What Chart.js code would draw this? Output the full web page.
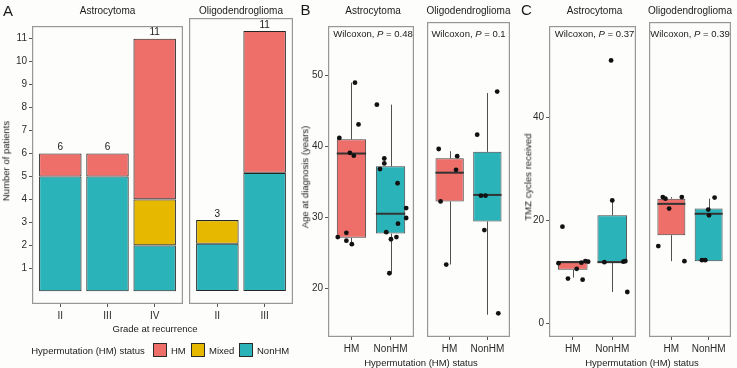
<!DOCTYPE html>
<html>
<head>
<meta charset="utf-8">
<script src="https://cdn.jsdelivr.net/npm/chart.js@4.4.0/dist/chart.umd.min.js"></script>
<style>
  body { margin: 0; background: #fdfdfb; }
  #fig { position: relative; width: 737px; height: 368px; overflow: hidden;
         font-family: 'Liberation Sans', Arial, sans-serif; color: #1a1a1a; }
  #fig canvas { position: absolute; }
  .t { position: absolute; white-space: nowrap; line-height: 1; font-size: 9.5px;
       transform: translate(-50%, -50%); }
  .rot { transform: translate(-50%, -50%) rotate(-90deg); }
  .strip { font-size: 10px; }
  .letter { font-size: 15px; }
  .key { position: absolute; width: 14px; height: 14px; border: 1px solid #2a2a2a; box-sizing: border-box; }
</style>
</head>
<body>
<div id="fig"></div>
<script>
// ---- data ----
const statusNames = ['HM', 'Mixed', 'NonHM'];
const facetNames = ['Astrocytoma', 'Oligodendroglioma'];

// A: number of patients by grade at recurrence
const gradesAstro = ['II', 'III', 'IV'];
const gradesOligo = ['II', 'III'];
const astroHM = [1, 1, 7];
const astroMixed = [0, 0, 2];
const astroNonHM = [5, 5, 2];
const oligoHM = [0, 6];
const oligoMixed = [1, 0];
const oligoNonHM = [2, 5];
const countTicks = [1, 2, 3, 4, 5, 6, 7, 8, 9, 10, 11];

// B / C boxplots: [lower whisker, q1, median, q3, upper whisker] for HM, NonHM
const boxGroups = ['HM', 'NonHM'];
const ageAstroBox = [[26.2, 27.1, 39.0, 41.0, 49.0], [22.1, 27.7, 30.5, 37.2, 45.9]];
const ageOligoBox = [[23.2, 32.0, 36.0, 38.0, 39.0], [16.2, 29.2, 32.9, 38.9, 47.1]];
const tmzAstroBox = [[8.9, 10.4, 11.9, 12.1, 12.1], [6.1, 11.9, 11.9, 21.0, 23.9]];
const tmzOligoBox = [[11.9, 16.9, 22.9, 23.9, 24.2], [11.9, 11.9, 21.0, 22.0, 23.9]];

// jittered points (value + horizontal jitter around the group)
const ageAstroHM = [41.2, 49.0, 43.1, 39.1, 38.7, 27.2, 27.8, 26.7, 26.2];
const ageAstroHMJit = [-0.31, 0.09, 0.18, -0.04, 0.06, -0.35, -0.13, -0.13, 0.01];
const ageAstroNon = [45.9, 38.3, 37.6, 36.8, 34.8, 27.9, 26.9, 27.2, 31.3, 29.9, 29.1, 22.1];
const ageAstroNonJit = [-0.35, -0.16, -0.16, -0.27, 0.18, -0.11, 0.01, 0.15, 0.40, 0.40, 0.19, -0.03];
const ageOligoHM = [39.3, 38.3, 36.4, 32.0, 23.2];
const ageOligoHMJit = [-0.29, 0.20, 0.17, -0.24, -0.09];
const ageOligoNon = [41.3, 47.3, 32.8, 32.8, 28.0, 16.4];
const ageOligoNonJit = [-0.27, 0.26, -0.17, -0.05, -0.08, 0.29];

const tmzAstroHM = [18.8, 11.7, 8.7, 10.6, 11.8, 12.1, 12.0, 8.5];
const tmzAstroHMJit = [-0.26, -0.36, -0.12, 0.10, 0.22, 0.32, 0.39, 0.25];
const tmzAstroNon = [51.1, 23.9, 11.9, 12.0, 12.1, 6.1];
const tmzAstroNonJit = [-0.03, 0.00, -0.20, 0.28, 0.33, 0.38];
const tmzOligoHM = [24.2, 23.9, 22.0, 24.2, 14.8, 11.9];
const tmzOligoHMJit = [-0.23, -0.16, -0.06, 0.28, -0.35, 0.35];
const tmzOligoNon = [24.1, 21.8, 20.7, 12.1, 12.1];
const tmzOligoNonJit = [0.16, -0.01, 0.01, -0.18, -0.09];

const ageTicks = [20, 30, 40, 50];
const tmzTicks = [0, 20, 40];
const pValuesAge = ['0.48', '0.1'];
const pValuesTmz = ['0.37', '0.39'];

// ---- styling ----
const colors = { HM: '#EE6E6A', Mixed: '#E6B800', NonHM: '#2BB3BA' };
const tickFont = { family: "'Liberation Sans', Arial, sans-serif", size: 10 };
const tickColor = '#2b2b2b';
const fig = document.getElementById('fig');

function makeCanvas(left, top, w, h) {
  const c = document.createElement('canvas');
  c.width = w; c.height = h;
  c.style.left = left + 'px'; c.style.top = top + 'px';
  c.style.width = w + 'px'; c.style.height = h + 'px';
  fig.appendChild(c);
  return c;
}

function addText(html, x, y, cls) {
  const d = document.createElement('div');
  d.className = 't ' + (cls || '');
  d.innerHTML = html;
  d.style.left = x + 'px'; d.style.top = y + 'px';
  fig.appendChild(d);
  return d;
}

const panelBorder = {
  id: 'panelBorder',
  afterDraw(chart) {
    const { ctx, chartArea: a } = chart;
    ctx.save();
    ctx.strokeStyle = '#979797';
    ctx.lineWidth = 1.2;
    ctx.strokeRect(a.left + 0.6, a.top + 0.6, a.right - a.left - 1.2, a.bottom - a.top - 1.2);
    ctx.restore();
  }
};

function xAxis(labels, xh, stacked) {
  return {
    type: 'linear', min: 0.4, max: labels.length + 0.6, offset: false, stacked: stacked,
    afterBuildTicks: s => { s.ticks = labels.map((l, i) => ({ value: i + 1 })); },
    afterFit: s => { s.height = xh; },
    ticks: { callback: v => labels[v - 1], font: tickFont, color: tickColor, padding: 3,
             autoSkip: false, maxRotation: 0 },
    grid: { display: true, drawOnChartArea: false, drawTicks: true, tickLength: 3,
            color: '#555', offset: false },
    border: { display: false }
  };
}

function yAxis(min, max, tickVals, yw, stacked) {
  return {
    type: 'linear', min: min, max: max, stacked: stacked, display: yw > 0,
    afterBuildTicks: s => { s.ticks = tickVals.map(v => ({ value: v })); },
    afterFit: s => { s.width = yw; },
    ticks: { font: tickFont, color: tickColor, padding: 2 },
    grid: { display: true, drawOnChartArea: false, drawTicks: true, tickLength: 3, color: '#555' },
    border: { display: false }
  };
}

function baseOptions(scales) {
  return {
    responsive: false, animation: false,
    layout: { padding: 0 },
    plugins: { legend: { display: false }, tooltip: { enabled: false } },
    scales: scales
  };
}

// ---- panel A ----
function countChart(panel, yw, grades, hm, mixed, non) {
  const xh = 24;
  const cv = makeCanvas(panel.x - yw, panel.y, panel.w + yw, panel.h + xh);
  const series = [['NonHM', non], ['Mixed', mixed], ['HM', hm]];
  const totals = {
    id: 'totals',
    afterDatasetsDraw(chart) {
      const { ctx, scales: { x, y } } = chart;
      ctx.save();
      ctx.font = "10px 'Liberation Sans', Arial, sans-serif";
      ctx.fillStyle = '#1a1a1a';
      ctx.textAlign = 'center';
      ctx.textBaseline = 'bottom';
      grades.forEach((g, i) => {
        const total = hm[i] + mixed[i] + non[i];
        ctx.fillText(String(total), x.getPixelForValue(i + 1), y.getPixelForValue(total) - 1);
      });
      ctx.restore();
    }
  };
  new Chart(cv, {
    type: 'bar',
    data: {
      datasets: series.map(([name, vals]) => ({
        label: name,
        data: vals.map((v, i) => ({ x: i + 1, y: v || null })),
        backgroundColor: colors[name],
        borderColor: '#262626', borderWidth: 1.1, borderSkipped: false,
        categoryPercentage: 1, barPercentage: 0.9
      }))
    },
    plugins: [panelBorder, totals],
    options: baseOptions({
      x: xAxis(grades, xh, true),
      y: yAxis(-0.55, 11.55, countTicks, yw, true)
    })
  });
}

// ---- panels B and C ----
function boxExtras(box) {
  return {
    id: 'boxExtras',
    beforeDatasetsDraw(chart) {
      const { ctx, scales: { x, y } } = chart;
      ctx.save();
      ctx.strokeStyle = '#505050';
      ctx.lineWidth = 1;
      box.forEach((b, i) => {
        const px = Math.round(x.getPixelForValue(i + 1)) + 0.5;
        ctx.beginPath();
        ctx.moveTo(px, y.getPixelForValue(b[0]));
        ctx.lineTo(px, y.getPixelForValue(b[1]));
        ctx.moveTo(px, y.getPixelForValue(b[3]));
        ctx.lineTo(px, y.getPixelForValue(b[4]));
        ctx.stroke();
      });
      ctx.restore();
    },
    afterDatasetDraw(chart, args) {
      if (args.meta.type !== 'bar') return;
      const { ctx, scales: { y } } = chart;
      ctx.save();
      ctx.strokeStyle = '#333';
      ctx.lineWidth = 2;
      args.meta.data.forEach((bar, i) => {
        const half = bar.width / 2;
        const py = y.getPixelForValue(box[i][2]);
        ctx.beginPath();
        ctx.moveTo(bar.x - half, py);
        ctx.lineTo(bar.x + half, py);
        ctx.stroke();
      });
      ctx.restore();
    }
  };
}

function boxChart(panel, yw, box, hmVals, hmJit, nonVals, nonJit, yMin, yMax, yTicks) {
  const xh = 24;
  const cv = makeCanvas(panel.x - yw, panel.y, panel.w + yw, panel.h + xh);
  const pts = hmVals.map((v, i) => ({ x: 1 + hmJit[i], y: v }))
    .concat(nonVals.map((v, i) => ({ x: 2 + nonJit[i], y: v })));
  new Chart(cv, {
    type: 'bar',
    data: {
      datasets: [
        { type: 'scatter', data: pts, order: 0, showLine: false,
          pointRadius: 2.4, pointBackgroundColor: '#111', pointBorderWidth: 0 },
        { type: 'bar', order: 1,
          data: box.map((b, i) => ({ x: i + 1, y: [b[1], b[3]] })),
          backgroundColor: boxGroups.map(g => colors[g]),
          borderColor: '#444', borderWidth: 1, borderSkipped: false,
          categoryPercentage: 1, barPercentage: 0.75 }
      ]
    },
    plugins: [panelBorder, boxExtras(box)],
    options: baseOptions({
      x: xAxis(boxGroups, xh, false),
      y: yAxis(yMin, yMax, yTicks, yw, false)
    })
  });
}

const pA = [{ x: 32, y: 18, w: 151, h: 286 }, { x: 189, y: 18, w: 104, h: 286 }];
const pB = [{ x: 328, y: 18, w: 90, h: 319 }, { x: 423, y: 18, w: 91, h: 319 }];
const pC = [{ x: 549, y: 18, w: 91, h: 319 }, { x: 645, y: 18, w: 90, h: 319 }];

countChart(pA[0], 32, gradesAstro, astroHM, astroMixed, astroNonHM);
countChart(pA[1], 0, gradesOligo, oligoHM, oligoMixed, oligoNonHM);
boxChart(pB[0], 24, ageAstroBox, ageAstroHM, ageAstroHMJit, ageAstroNon, ageAstroNonJit, 13.1, 57.0, ageTicks);
boxChart(pB[1], 0, ageOligoBox, ageOligoHM, ageOligoHMJit, ageOligoNon, ageOligoNonJit, 13.1, 57.0, ageTicks);
boxChart(pC[0], 20, tmzAstroBox, tmzAstroHM, tmzAstroHMJit, tmzAstroNon, tmzAstroNonJit, -2.65, 57.8, tmzTicks);
boxChart(pC[1], 0, tmzOligoBox, tmzOligoHM, tmzOligoHMJit, tmzOligoNon, tmzOligoNonJit, -2.65, 57.8, tmzTicks);

// ---- text ----
addText('A', 8, 10, 'letter');
addText('B', 305.5, 9, 'letter');
addText('C', 526.5, 9, 'letter');

[pA, pB, pC].forEach(ps => ps.forEach((p, i) => addText(facetNames[i], p.x + p.w / 2, 10.5, 'strip')));
pB.forEach((p, i) => addText('Wilcoxon, <i>P</i> = ' + pValuesAge[i], p.x + p.w / 2, 33.5));
pC.forEach((p, i) => addText('Wilcoxon, <i>P</i> = ' + pValuesTmz[i], p.x + p.w / 2, 33.5));

addText('Number of patients', 6, 161, 'rot');
addText('Age at diagnosis (years)', 305, 177, 'rot');
addText('TMZ cycles received', 527.5, 177, 'rot');

addText('Grade at recurrence', 155, 329);
addText('Hypermutation (HM) status', (pB[0].x + pB[1].x + pB[1].w) / 2, 362.5);
addText('Hypermutation (HM) status', (pC[0].x + pC[1].x + pC[1].w) / 2, 362.5);

// legend
addText('Hypermutation (HM) status', 88, 350.5);
const keyLeft = [153, 191, 239];
statusNames.forEach((name, i) => {
  const k = document.createElement('div');
  k.className = 'key';
  k.style.left = keyLeft[i] + 'px';
  k.style.top = '343px';
  k.style.background = colors[name];
  fig.appendChild(k);
  const t = addText(name, keyLeft[i] + 18, 350.5);
  t.style.transform = 'translate(0, -50%)';
});
</script>
</body>
</html>
